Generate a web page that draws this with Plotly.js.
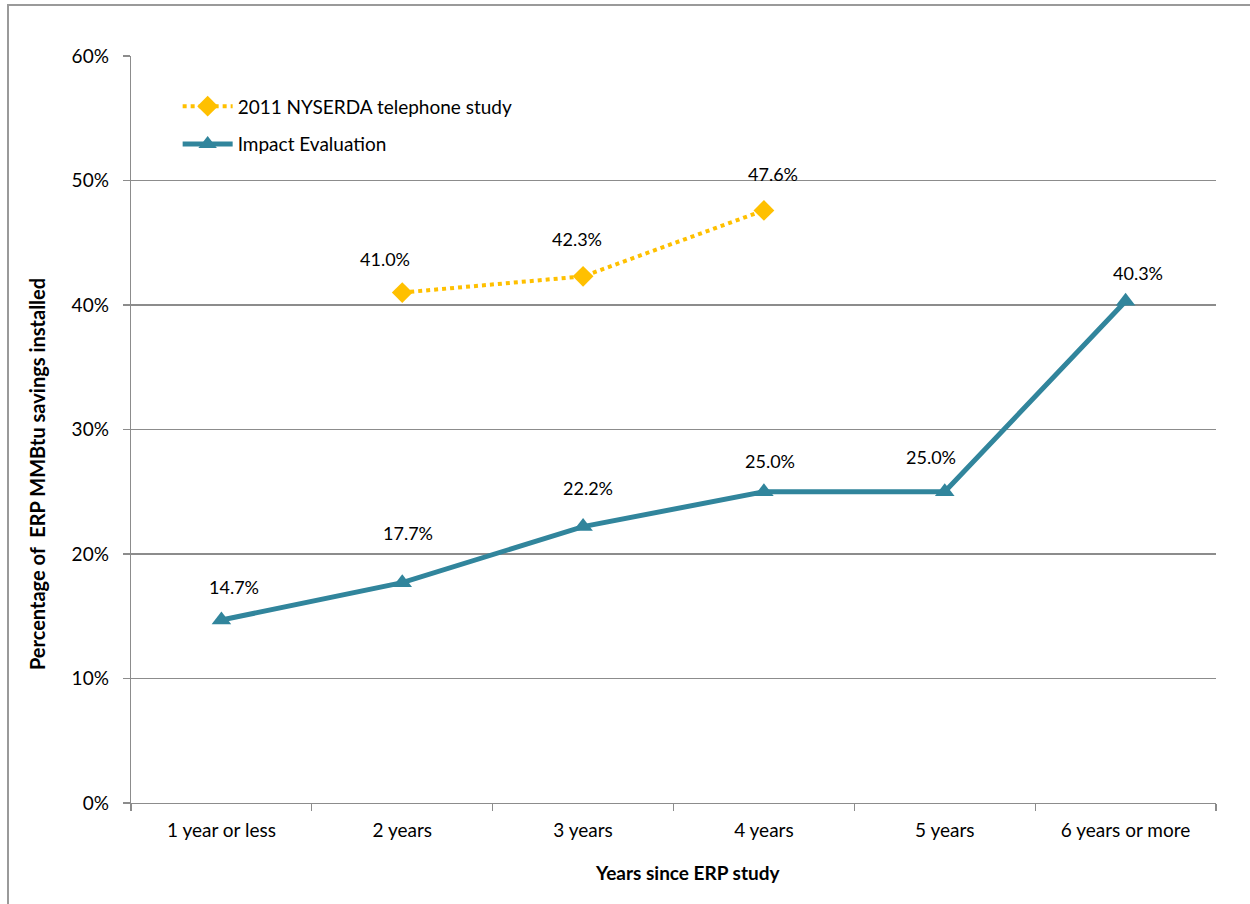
<!DOCTYPE html>
<html>
<head>
<meta charset="utf-8">
<script src="https://cdn.plot.ly/plotly-3.0.1.min.js"></script>
<style>
  html, body { margin: 0; padding: 0; background: #fff; }
  #wrap { position: relative; width: 1250px; height: 904px; }
  #chart { width: 1250px; height: 904px; }
  #frame {
    position: absolute; left: 7px; top: 4px; width: 1300px; height: 960px;
    border-left: 2px solid #9a9a9a; border-top: 2px solid #9a9a9a;
    pointer-events: none;
  }
</style>
</head>
<body>
<div id="wrap">
  <div id="chart"></div>
  <div id="frame"></div>
</div>
<script>
// Years since the ERP study
const categories = ['1 year or less', '2 years', '3 years', '4 years', '5 years', '6 years or more'];

// Share of ERP MMBtu savings installed (percent)
const telephoneStudy = [null, 41.0, 42.3, 47.6, null, null];
const impactEvaluation = [14.7, 17.7, 22.2, 25.0, 25.0, 40.3];

const yTickValues = [0, 10, 20, 30, 40, 50, 60];
const yTickLabels = ['0%', '10%', '20%', '30%', '40%', '50%', '60%'];

const xTitle = 'Years since ERP study';
const yTitle = 'Percentage of  ERP MMBtu savings installed';

// Pixel nudges for each data label: [dx, dy]
const telOffsets = [null, [-17, 34], [-6, 37], [9, 36], null, null];
const impOffsets = [[13, 33], [6, 50], [5, 39], [6, 31], [-14, 35], [12, 28]];

const FONT = 'Lato, "Open Sans", sans-serif';
const YELLOW = '#FFC000';
const TEAL = '#31859C';
const GRID = '#8c8c8c';

const traces = [
  {
    x: categories, y: telephoneStudy, type: 'scatter', mode: 'lines+markers',
    name: '2011 NYSERDA telephone study', legendgroup: 'a',
    line: { color: YELLOW, width: 4, dash: 'dot' },
    marker: { symbol: 'diamond', size: 16, color: YELLOW },
    connectgaps: false, hoverinfo: 'x+y'
  },
  {
    x: categories, y: impactEvaluation, type: 'scatter', mode: 'lines+markers',
    name: 'Impact Evaluation', legendgroup: 'b',
    line: { color: TEAL, width: 5 },
    marker: { symbol: 'triangle-up', size: 17, color: TEAL },
    hoverinfo: 'x+y'
  }
];

const annotations = [];
function addLabels(values, offsets) {
  values.forEach((v, i) => {
    if (v === null) return;
    const off = offsets[i];
    annotations.push({
      x: categories[i], y: v, xref: 'x', yref: 'y',
      text: v.toFixed(1) + '%', showarrow: false,
      xshift: off[0], yshift: off[1],
      font: { family: FONT, size: 18, color: '#000' }
    });
  });
}
addLabels(telephoneStudy, telOffsets);
addLabels(impactEvaluation, impOffsets);

// Axis titles placed as paper-anchored annotations
annotations.push({
  xref: 'paper', yref: 'paper', x: 0.5134, y: -0.0937,
  xanchor: 'center', yanchor: 'middle', showarrow: false,
  text: '<b>' + xTitle + '</b>',
  font: { family: FONT, size: 19, color: '#000' }
});
annotations.push({
  xref: 'paper', yref: 'paper', x: -0.0866, y: 0.4404,
  xanchor: 'center', yanchor: 'middle', showarrow: false, textangle: -90,
  text: '<b>' + yTitle + '</b>',
  font: { family: FONT, size: 20, color: '#000' }
});

const layout = {
  width: 1250, height: 904,
  margin: { l: 131, r: 34, t: 56, b: 101 },
  paper_bgcolor: '#fff', plot_bgcolor: '#fff',
  font: { family: FONT, size: 19, color: '#000' },
  showlegend: true,
  legend: {
    x: 0.043, y: 0.958, xanchor: 'left', yanchor: 'top',
    bgcolor: 'rgba(0,0,0,0)', tracegroupgap: 10, itemwidth: 50,
    font: { family: FONT, size: 19, color: '#000' }
  },
  xaxis: {
    type: 'category', range: [-0.5, 5.5],
    tickson: 'boundaries', ticks: 'outside', ticklen: 7, tickcolor: GRID, tickwidth: 1.3,
    showline: true, linecolor: GRID, linewidth: 1.3,
    showgrid: false, zeroline: false,
    tickfont: { family: FONT, size: 19, color: '#000' },
    ticklabelstandoff: 10
  },
  yaxis: {
    range: [0, 60], tickvals: yTickValues, ticktext: yTickLabels,
    ticks: 'outside', ticklen: 7, tickcolor: GRID, tickwidth: 1.3,
    showline: true, linecolor: GRID, linewidth: 1.3,
    showgrid: true, gridcolor: GRID, gridwidth: 1.3, zeroline: false,
    tickfont: { family: FONT, size: 19, color: '#000' },
    ticklabelstandoff: 10
  },
  annotations: annotations
};

Plotly.newPlot('chart', traces, layout, { displayModeBar: false, staticPlot: true });
</script>
</body>
</html>
